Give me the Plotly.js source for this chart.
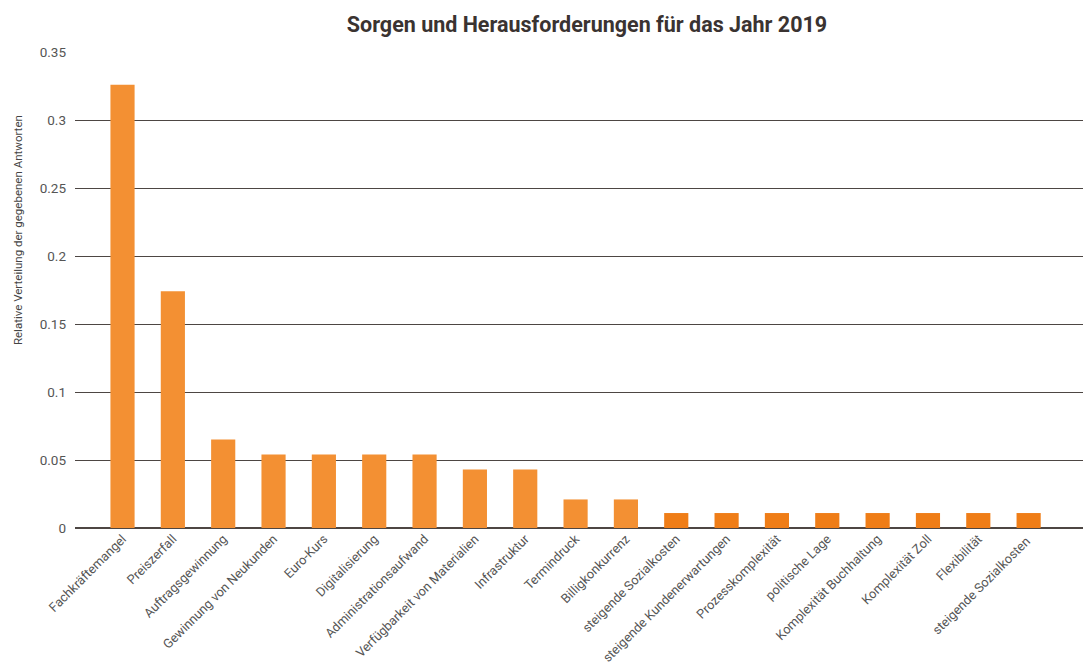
<!DOCTYPE html>
<html>
<head>
<meta charset="utf-8">
<script src="https://cdn.plot.ly/plotly-3.0.1.min.js"></script>
<style>html,body{margin:0;padding:0;background:#fff;}#chart{width:1083px;height:666px;}</style>
</head>
<body>
<div id="chart"></div>
<script>
const categories = [
  "Fachkräftemangel", "Preiszerfall", "Auftragsgewinnung", "Gewinnung von Neukunden",
  "Euro-Kurs", "Digitalisierung", "Administrationsaufwand", "Verfügbarkeit von Materialien",
  "Infrastruktur", "Termindruck", "Billigkonkurrenz", "steigende Sozialkosten",
  "steigende Kundenerwartungen", "Prozesskomplexität", "politische Lage",
  "Komplexität Buchhaltung", "Komplexität Zoll", "Flexibilität", "steigende Sozialkosten "
];
const values = [
  0.326, 0.174, 0.065, 0.054, 0.054, 0.054, 0.054, 0.043, 0.043, 0.021, 0.021,
  0.011, 0.011, 0.011, 0.011, 0.011, 0.011, 0.011, 0.011
];
const yTicks = [0, 0.05, 0.1, 0.15, 0.2, 0.25, 0.3, 0.35];
const yTickLabels = ["0", "0.05", "0.1", "0.15", "0.2", "0.25", "0.3", "0.35"];
const yTitle = "Relative Verteilung der gegebenen Antworten";

const colors = values.map((v, i) => i < 11 ? "#F39033" : "#EF7D17");
const FONT = "Roboto, 'Open Sans', sans-serif";

Plotly.newPlot("chart", [{
  type: "bar",
  x: categories.map((c, i) => i),
  y: values,
  marker: {color: colors, line: {width: 0}},
  hoverinfo: "x+y"
}], {
  width: 1083, height: 666,
  margin: {l: 75, r: 0, t: 52, b: 138},
  paper_bgcolor: "#fff", plot_bgcolor: "#fff",
  bargap: 0.52,
  showlegend: false,
  title: {
    text: "<b>Sorgen und Herausforderungen für das Jahr 2019</b>",
    font: {family: FONT, size: 21.5, color: "#3a3331"},
    x: 0.542, xanchor: "center", y: 0.963, yanchor: "middle"
  },
  xaxis: {
    range: [-0.944, 19.08],
    tickmode: "array",
    tickvals: categories.map((c, i) => i),
    ticktext: categories,
    tickangle: -45,
    tickfont: {family: FONT, size: 12.8, color: "#555"},
    showgrid: false, zeroline: false,
    showline: false, ticks: ""
  },
  yaxis: {
    range: [0, 0.35],
    tickmode: "array",
    tickvals: yTicks,
    ticktext: yTickLabels,
    tickfont: {family: FONT, size: 13.5, color: "#555"},
    showgrid: true, gridcolor: "#4d4643", gridwidth: 1,
    zeroline: true, zerolinecolor: "#4d4643", zerolinewidth: 1.5,
    ticks: "", ticklabelstandoff: 8
  },
  annotations: [{
    text: yTitle,
    textangle: -90,
    xref: "paper", yref: "paper",
    x: -0.0565, y: 0.626,
    xanchor: "center", yanchor: "middle",
    showarrow: false,
    font: {family: FONT, size: 11.5, color: "#444"}
  }]
}, {displayModeBar: false, staticPlot: true});
</script>
</body>
</html>
